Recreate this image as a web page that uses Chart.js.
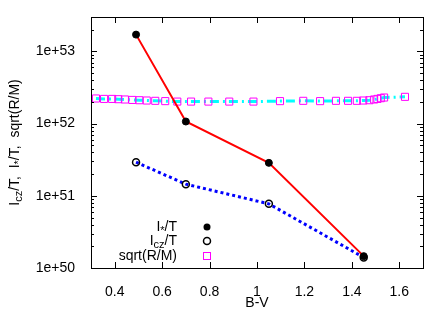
<!DOCTYPE html>
<html>
<head>
<meta charset="utf-8">
<script src="https://cdn.jsdelivr.net/npm/chart.js@4"></script>
<style>
  body { margin: 0; background: #fff; }
  #wrap { width: 447px; height: 313px; }
</style>
</head>
<body>
<div id="wrap"><canvas id="myChart" width="447" height="313"></canvas></div>
<script>
// B-V of the four stars and their I/T values
const bvStar = [0.49, 0.70, 1.05, 1.45];
const iStarT = [1.71e53, 1.07e52, 2.86e51, 1.46e50];
const iczT = [2.92e51, 1.45e51, 7.74e50, 1.40e50];

// sqrt(R/M) curve
const bvSqrt = [0.321, 0.355, 0.389, 0.415, 0.443, 0.474, 0.504, 0.535, 0.571, 0.613,
  0.664, 0.722, 0.795, 0.883, 0.985, 1.097, 1.195, 1.266, 1.333, 1.384,
  1.421, 1.448, 1.474, 1.494, 1.508, 1.522, 1.536, 1.624];
const sqrtRM = [2.23e52, 2.20e52, 2.20e52, 2.18e52, 2.16e52, 2.13e52, 2.11e52, 2.09e52, 2.07e52, 2.05e52,
  2.02e52, 2.02e52, 2.02e52, 2.02e52, 2.02e52, 2.05e52, 2.07e52, 2.05e52, 2.07e52, 2.07e52,
  2.07e52, 2.09e52, 2.11e52, 2.16e52, 2.20e52, 2.25e52, 2.30e52, 2.35e52];

const xTicks = [0.4, 0.6, 0.8, 1.0, 1.2, 1.4, 1.6];
const yTicks = [1e50, 1e51, 1e52, 1e53];

const FONT = '"Liberation Sans", Arial, sans-serif';

function pts(xs, ys) {
  return xs.map((x, i) => ({x: x, y: ys[i]}));
}

// draw text with subscript parts
function richText(ctx, parts, x, y, align) {
  let w = 0;
  parts.forEach(p => {
    ctx.font = (p.sub ? '11px ' : '14px ') + FONT;
    p.w = ctx.measureText(p.t).width;
    w += p.w;
  });
  let cx = align == 'right' ? x - w : (align == 'center' ? x - w / 2 : x);
  parts.forEach(p => {
    ctx.font = (p.sub ? '11px ' : '14px ') + FONT;
    ctx.textAlign = 'left';
    ctx.textBaseline = 'middle';
    ctx.fillText(p.t, cx, y + (p.sub ? 4 : 0));
    cx += p.w;
  });
}

const framePlugin = {
  id: 'frame',
  afterDraw(chart) {
    const ctx = chart.ctx;
    const a = chart.chartArea;
    const xs = chart.scales.x, ys = chart.scales.y;
    ctx.save();
    ctx.strokeStyle = '#000';
    ctx.lineWidth = 1;
    ctx.strokeRect(a.left + 0.5, a.top + 0.5, a.right - a.left, a.bottom - a.top);

    ctx.beginPath();
    xTicks.forEach(v => {
      const px = Math.round(xs.getPixelForValue(v)) + 0.5;
      ctx.moveTo(px, a.bottom); ctx.lineTo(px, a.bottom - 6);
      ctx.moveTo(px, a.top); ctx.lineTo(px, a.top + 6);
    });
    for (let e = 50; e <= 53; e++) {
      for (let m = 1; m <= 9; m++) {
        const v = m * Math.pow(10, e);
        if (v > ys.max) break;
        const py = Math.round(ys.getPixelForValue(v)) + 0.5;
        const len = m == 1 ? 6 : 3;
        ctx.moveTo(a.left, py); ctx.lineTo(a.left + len, py);
        ctx.moveTo(a.right, py); ctx.lineTo(a.right - len, py);
      }
    }
    ctx.stroke();

    ctx.fillStyle = '#000';
    // x title
    richText(ctx, [{t: 'B-V'}], (a.left + a.right) / 2, 303, 'center');
    // y title
    ctx.save();
    ctx.translate(15, (a.top + a.bottom) / 2);
    ctx.rotate(-Math.PI / 2);
    richText(ctx, [{t: 'I'}, {t: 'cz', sub: true}, {t: '/T,  I'}, {t: '*', sub: true},
      {t: '/T,  sqrt(R/M)'}], 0, 0, 'center');
    ctx.restore();

    // legend
    const lx = 177, sx = 207;
    const rows = [227, 241, 256];
    richText(ctx, [{t: 'I'}, {t: '*', sub: true}, {t: '/T'}], lx, rows[0], 'right');
    richText(ctx, [{t: 'I'}, {t: 'cz', sub: true}, {t: '/T'}], lx, rows[1], 'right');
    richText(ctx, [{t: 'sqrt(R/M)'}], lx, rows[2], 'right');

    ctx.beginPath();
    ctx.arc(sx, rows[0], 3.5, 0, Math.PI * 2);
    ctx.fill();
    ctx.beginPath();
    ctx.lineWidth = 1.5;
    ctx.arc(sx, rows[1], 3.5, 0, Math.PI * 2);
    ctx.stroke();
    ctx.strokeStyle = '#ff00ff';
    ctx.lineWidth = 1;
    ctx.strokeRect(sx - 3.5, rows[2] - 3.5, 7, 7);
    ctx.restore();
  }
};

const ctx = document.getElementById('myChart').getContext('2d');
const myChart = new Chart(ctx, {
  type: 'scatter',
  data: {
    datasets: [{
      label: 'I*/T',
      data: pts(bvStar, iStarT),
      showLine: true,
      borderColor: '#ff0000',
      borderWidth: 2,
      pointBackgroundColor: '#000',
      pointBorderColor: '#000',
      pointRadius: 3.5,
      pointBorderWidth: 1
    }, {
      label: 'Icz/T',
      data: pts(bvStar, iczT),
      showLine: true,
      borderColor: '#0000ff',
      borderWidth: 3,
      borderDash: [3, 3],
      pointBackgroundColor: 'rgba(0,0,0,0)',
      pointBorderColor: '#000',
      pointRadius: 3.5,
      pointBorderWidth: 1.5
    }, {
      label: 'sqrt(R/M)',
      data: pts(bvSqrt, sqrtRM),
      showLine: true,
      borderColor: '#00ffff',
      borderWidth: 3,
      borderDash: [9, 4, 2, 4],
      pointStyle: 'rect',
      pointBackgroundColor: 'rgba(0,0,0,0)',
      pointBorderColor: '#ff00ff',
      pointRadius: 5,
      pointBorderWidth: 1
    }]
  },
  options: {
    responsive: false,
    animation: false,
    events: [],
    layout: { padding: { left: 0, top: 17, right: 24, bottom: 0 } },
    plugins: { legend: { display: false }, tooltip: { enabled: false } },
    scales: {
      x: {
        type: 'linear',
        min: 0.3,
        max: 1.7,
        afterBuildTicks: s => { s.ticks = xTicks.map(v => ({value: v})); },
        afterFit: s => { s.height = 45; },
        grid: { display: false },
        border: { display: false },
        ticks: {
          color: '#000',
          padding: 8,
          font: { family: FONT, size: 14 },
          callback: v => String(Number(v.toFixed(1)))
        }
      },
      y: {
        type: 'logarithmic',
        min: 1e50,
        max: 3e53,
        afterBuildTicks: s => { s.ticks = yTicks.map(v => ({value: v})); },
        afterFit: s => { s.width = 91; },
        grid: { display: false },
        border: { display: false },
        ticks: {
          color: '#000',
          padding: 8,
          font: { family: FONT, size: 14 },
          callback: v => '1e+' + Math.round(Math.log10(v))
        }
      }
    }
  },
  plugins: [framePlugin]
});
</script>
</body>
</html>
